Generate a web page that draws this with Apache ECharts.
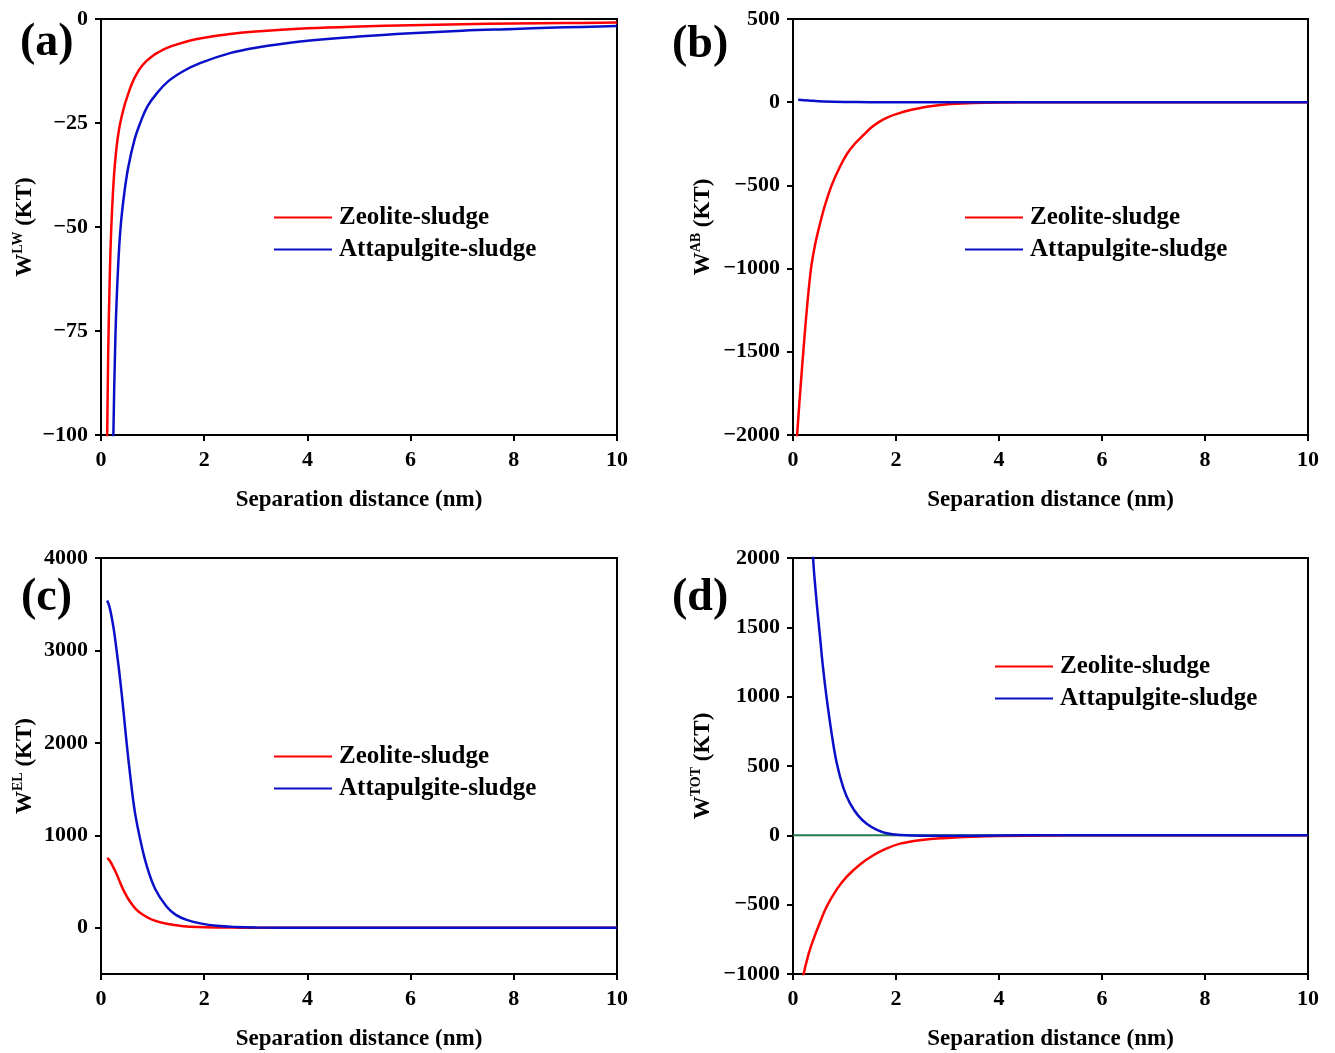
<!DOCTYPE html>
<html>
<head>
<meta charset="utf-8">
<script src="https://cdn.jsdelivr.net/npm/echarts@6/dist/echarts.min.js"></script>
<style>
  html, body { margin: 0; padding: 0; background: #fff; }
  #chart { width: 1335px; height: 1053px; }
</style>
</head>
<body>
<div id="chart"></div>
<script>
// values, [distance nm, energy KT]
const zeoliteLW = [[0.1,-118],[0.12,-100],[0.14,-80],[0.17,-62],[0.2,-50],[0.25,-38],[0.3,-31],[0.35,-26.5],[0.4,-23.5],[0.45,-21],[0.5,-19],[0.6,-15.5],[0.7,-13],[0.8,-11.2],[0.9,-9.9],[1,-8.9],[1.1,-8.1],[1.27,-7.0],[1.5,-6.0],[1.75,-5.1],[2,-4.5],[2.5,-3.6],[3,-3.0],[4,-2.25],[5,-1.8],[6,-1.5],[7,-1.25],[8,-1.1],[9,-0.97],[10,-0.87]];
const attapulgiteLW = [[0.22,-118],[0.24,-100],[0.28,-76],[0.33,-60],[0.38,-50],[0.45,-42],[0.53,-35.5],[0.65,-29],[0.76,-25],[0.9,-21],[1.08,-17.9],[1.3,-15],[1.6,-12.5],[1.92,-10.6],[2.5,-8.2],[3,-6.9],[3.86,-5.4],[5,-4.2],[6,-3.4],[7,-2.8],[8,-2.4],[9,-2.0],[10,-1.7]];

const zeoliteAB = [[0.05,-2150],[0.08,-2000],[0.14,-1740],[0.2,-1500],[0.27,-1240],[0.35,-1000],[0.42,-870],[0.5,-760],[0.62,-620],[0.75,-500],[0.9,-395],[1.05,-310],[1.2,-250],[1.36,-200],[1.52,-152],[1.69,-115],[1.85,-90],[2,-72],[2.3,-45],[2.6,-27],[3,-12],[3.5,-5],[4,-2],[5,0],[6,0],[8,0],[10,0]];
const attapulgiteAB = [[0.1,15],[0.3,10],[0.6,4],[1,1],[1.5,0.3],[2,0],[4,0],[6,0],[8,0],[10,0]];

const zeoliteEL = [[0.12,755],[0.17,725],[0.22,675],[0.3,585],[0.37,490],[0.46,380],[0.56,285],[0.68,200],[0.82,138],[1,85],[1.27,43],[1.6,17],[1.9,8],[2.5,2],[3,0.5],[4,0],[6,0],[8,0],[10,0]];
const attapulgiteEL = [[0.12,3540],[0.16,3480],[0.2,3380],[0.25,3220],[0.3,3010],[0.37,2690],[0.44,2320],[0.5,1980],[0.58,1580],[0.66,1240],[0.77,930],[0.89,663],[1.05,420],[1.27,230],[1.45,140],[1.66,86],[1.95,45],[2.24,22],[2.6,9],[3,3],[4,0.5],[6,0],[8,0],[10,0]];

const zeoliteTOT = [[0.17,-1130],[0.21,-997],[0.3,-860],[0.39,-757],[0.5,-650],[0.65,-517],[0.85,-390],[1.04,-300],[1.3,-210],[1.56,-144],[1.8,-98],[2.08,-60],[2.5,-33],[2.98,-19],[3.5,-10],[4,-5],[5,-1],[6,0],[8,0],[10,0]];
const attapulgiteTOT = [[0.34,2450],[0.39,2000],[0.45,1720],[0.52,1450],[0.58,1220],[0.65,1000],[0.75,735],[0.85,520],[0.98,340],[1.11,228],[1.27,140],[1.43,84],[1.62,42],[1.82,15],[2.1,2],[2.5,-3],[3,-3],[4,-1],[5,0],[6,0],[8,0],[10,0]];
const zeroLine = [[0,0],[10,0]];

const xTicks = [0, 10, 2];           // min, max, interval
const yRanges = [
  { min: -100, max: 0, interval: 25 },
  { min: -2000, max: 500, interval: 500 },
  { min: -500, max: 4000, interval: 500, ticks: [0, 1000, 2000, 3000, 4000] },
  { min: -1000, max: 2000, interval: 500 }
];
const yNames = ['LW', 'AB', 'EL', 'TOT'];
const panelLabels = ['(a)', '(b)', '(c)', '(d)'];

const FONT = '"Liberation Serif", "Times New Roman", serif';
const RED = '#ff0000', BLUE = '#0a10c8', GREEN = '#237a4e';

const grids = [
  { left: 101, top: 19, width: 516, height: 416 },
  { left: 793, top: 19, width: 515, height: 416 },
  { left: 101, top: 558, width: 516, height: 416 },
  { left: 793, top: 558, width: 515, height: 416 }
];
const nameGaps = [62, 76, 62, 76];

const fmt = v => String(v).replace('-', '\u2212');

const xAxis = grids.map((g, i) => ({
  type: 'value', gridIndex: i, min: xTicks[0], max: xTicks[1], interval: xTicks[2],
  name: 'Separation distance (nm)', nameLocation: 'middle', nameGap: 54,
  nameTextStyle: { fontFamily: FONT, fontWeight: 'bold', fontSize: 23, color: '#000' },
  axisLine: { onZero: false, lineStyle: { color: '#000', width: 2 } },
  axisTick: { length: 6, lineStyle: { color: '#000', width: 2 } },
  axisLabel: { fontFamily: FONT, fontWeight: 'bold', fontSize: 22, color: '#000', margin: 14 },
  splitLine: { show: false }
}));

const yAxis = yRanges.map((r, i) => {
  const ax = {
    type: 'value', gridIndex: i, min: r.min, max: r.max, interval: r.interval,
    name: '{b|W}{s|' + yNames[i] + '}{b| (KT)}', nameLocation: 'middle', nameGap: nameGaps[i],
    nameTextStyle: {
      rich: {
        b: { fontFamily: FONT, fontWeight: 'bold', fontSize: 23, color: '#000' },
        s: { fontFamily: FONT, fontWeight: 'bold', fontSize: 14, color: '#000', padding: [0, 0, 14, 0] }
      }
    },
    axisLine: { onZero: false, lineStyle: { color: '#000', width: 2 } },
    axisTick: { length: 6, lineStyle: { color: '#000', width: 2 } },
    axisLabel: { fontFamily: FONT, fontWeight: 'bold', fontSize: 22, color: '#000', margin: 13, formatter: fmt },
    splitLine: { show: false }
  };
  if (r.ticks) {
    ax.axisLabel.customValues = r.ticks;
    ax.axisTick.customValues = r.ticks;
  }
  return ax;
});

function line(name, data, color, idx) {
  return {
    name: name, type: 'line', xAxisIndex: idx, yAxisIndex: idx, data: data,
    showSymbol: false, smooth: 0.4,
    lineStyle: { color: color, width: 2.5 }, itemStyle: { color: color },
    z: name ? 3 : 2
  };
}

const series = [
  line('Zeolite-sludge', zeoliteLW, RED, 0),
  line('Attapulgite-sludge', attapulgiteLW, BLUE, 0),
  line('Zeolite-sludge', zeoliteAB, RED, 1),
  line('Attapulgite-sludge', attapulgiteAB, BLUE, 1),
  line('Zeolite-sludge', zeoliteEL, RED, 2),
  line('Attapulgite-sludge', attapulgiteEL, BLUE, 2),
  line('', zeroLine, GREEN, 3),
  line('Zeolite-sludge', zeoliteTOT, RED, 3),
  line('Attapulgite-sludge', attapulgiteTOT, BLUE, 3)
];
series[6].lineStyle.width = 2;
series[6].smooth = false;

const legendPos = [[269, 200], [960, 200], [269, 739], [990, 649]];
const legend = legendPos.map(p => ({
  left: p[0], top: p[1], orient: 'vertical', icon: 'rect',
  itemWidth: 58, itemHeight: 2, itemGap: 7,
  data: ['Zeolite-sludge', 'Attapulgite-sludge'],
  textStyle: { fontFamily: FONT, fontWeight: 'bold', fontSize: 25, color: '#000', padding: [0, 0, 0, 2] },
  selectedMode: false
}));

const labelPos = [[20, 20], [672, 22], [21, 575], [672, 575]];
const graphic = panelLabels.map((t, i) => ({
  type: 'text', left: labelPos[i][0], top: labelPos[i][1],
  style: { text: t, font: 'bold 46px ' + FONT, fill: '#000' }
}));

const chart = echarts.init(document.getElementById('chart'));
chart.setOption({
  backgroundColor: '#fff',
  animation: false,
  grid: grids.map(g => Object.assign({ show: true, borderColor: '#000', borderWidth: 2, containLabel: false }, g)),
  xAxis: xAxis,
  yAxis: yAxis,
  legend: legend,
  graphic: graphic,
  series: series
});
</script>
</body>
</html>
